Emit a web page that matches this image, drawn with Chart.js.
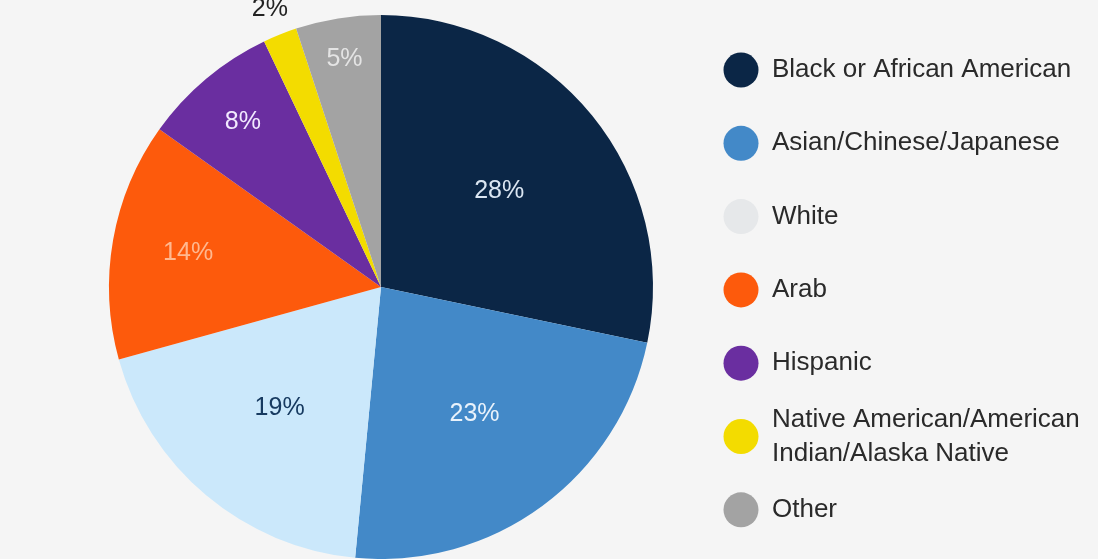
<!DOCTYPE html>
<html>
<head>
<meta charset="utf-8">
<script src="https://cdn.jsdelivr.net/npm/chart.js@4"></script>
<style>
  html, body { margin: 0; padding: 0; background: #f5f5f5; overflow: hidden; }
  #wrap { width: 1098px; height: 559px; position: relative; }
</style>
</head>
<body>
<div id="wrap"><canvas id="pie"></canvas></div>
<script>
const categories = ['Black or African American', 'Asian/Chinese/Japanese', 'White', 'Arab', 'Hispanic',
  ['Native American/American', 'Indian/Alaska Native'], 'Other'];
const percents = [28, 23, 19, 14, 8, 2, 5];
const sliceColors = ['#0b2646', '#4389c8', '#cbe8fb', '#fd5a0c', '#6a2ea0', '#f3dc00', '#a3a3a3'];
const labelColors = ['#dbe6f2', '#e9f2fb', '#173a60', '#ffb890', '#f2eaff', '#222222', '#e4e4e4'];

// where each % label sits, as fraction of the radius (the small slice goes outside)
const labelRadius = [0.56, 0.58, 0.58, 0.72, 0.79, 1.10, 0.85];

const pctLabels = {
  id: 'pctLabels',
  afterDatasetsDraw(chart) {
    const c = chart.ctx;
    const meta = chart.getDatasetMeta(0);
    c.save();
    c.font = '25px "Liberation Sans", Arial, sans-serif';
    c.textAlign = 'center';
    c.textBaseline = 'middle';
    meta.data.forEach((arc, i) => {
      const p = arc.getProps(['x', 'y', 'startAngle', 'endAngle', 'outerRadius']);
      const a = (p.startAngle + p.endAngle) / 2;
      const r = p.outerRadius * labelRadius[i];
      c.fillStyle = labelColors[i];
      c.fillText(percents[i] + '%', p.x + Math.cos(a) * r, p.y + Math.sin(a) * r);
    });
    c.restore();
  }
};

const sideLegend = {
  id: 'sideLegend',
  afterDraw(chart) {
    const c = chart.ctx;
    const x = 741, top = 70, step = 73.3;
    c.save();
    c.font = '26px "Liberation Sans", Arial, sans-serif';
    c.textBaseline = 'middle';
    chart.data.labels.forEach((lab, i) => {
      const y = top + i * step;
      c.beginPath();
      c.arc(x, y, 17.5, 0, Math.PI * 2);
      c.fillStyle = i === 2 ? '#e6e8ea' : sliceColors[i];
      c.fill();
      c.fillStyle = '#2a2a2a';
      const lines = Array.isArray(lab) ? lab : [lab];
      lines.forEach((t, j) => {
        c.fillText(t, x + 31, y + (j - (lines.length - 1) / 2) * 34);
      });
    });
    c.restore();
  }
};

new Chart(document.getElementById('pie'), {
  type: 'pie',
  data: {
    labels: categories,
    datasets: [{
      data: percents,
      backgroundColor: sliceColors,
      borderWidth: 0,
      hoverOffset: 0
    }]
  },
  options: {
    responsive: true,
    maintainAspectRatio: false,
    animation: false,
    events: [],
    layout: { padding: { left: 106, right: 442, top: 15, bottom: -6 } },
    plugins: {
      legend: { display: false },
      tooltip: { enabled: false }
    }
  },
  plugins: [pctLabels, sideLegend]
});
</script>
</body>
</html>
